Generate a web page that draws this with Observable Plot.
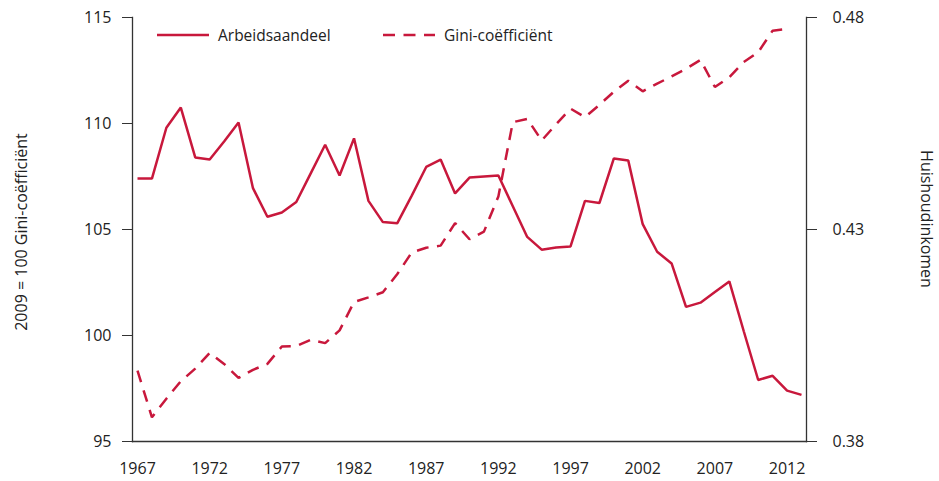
<!DOCTYPE html>
<html><head><meta charset="utf-8">
<script src="https://cdn.jsdelivr.net/npm/d3@7"></script>
<script src="https://cdn.jsdelivr.net/npm/@observablehq/plot@0.6"></script>
<style>
body{margin:0;background:#fff;font-family:"Open Sans",sans-serif;color:#222;}
#wrap{position:relative;width:939px;height:481px;overflow:hidden;}
.legend{position:absolute;top:24px;font-size:15.5px;line-height:22px;display:flex;align-items:center;}
.legend svg{display:block;margin-right:9px;}
.ytitle{position:absolute;font-size:16px;white-space:nowrap;transform-origin:center center;}
</style></head><body>
<div id="wrap"></div>
<script>
const years = [1967,1968,1969,1970,1971,1972,1973,1974,1975,1976,1977,1978,1979,1980,1981,1982,1983,1984,1985,1986,1987,1988,1989,1990,1991,1992,1993,1994,1995,1996,1997,1998,1999,2000,2001,2002,2003,2004,2005,2006,2007,2008,2009,2010,2011,2012,2013];
const labourShare = [107.4,107.4,109.8,110.75,108.4,108.3,109.15,110.05,106.95,105.6,105.8,106.3,107.65,109.0,107.55,109.3,106.35,105.35,105.3,106.6,107.95,108.3,106.7,107.45,107.5,107.55,106.1,104.65,104.05,104.15,104.2,106.35,106.25,108.35,108.25,105.25,103.95,103.4,101.35,101.55,102.05,102.55,100.2,97.9,98.1,97.4,97.2];
const gini = [0.3967,0.3857,0.3901,0.3942,0.3972,0.4009,0.3983,0.3950,0.3969,0.3983,0.4024,0.4025,0.4040,0.4032,0.4062,0.4129,0.4140,0.4152,0.4195,0.4246,0.4257,0.4262,0.4315,0.4277,0.4295,0.4378,0.4553,0.4561,0.4510,0.4548,0.4585,0.4565,0.4594,0.4625,0.4651,0.4626,0.4644,0.4661,0.4679,0.4700,0.4636,0.4659,0.4695,0.4718,0.4769,0.4773];
const tickYears = [1967,1972,1977,1982,1987,1992,1997,2002,2007,2012];
const leftTicks = [95,100,105,110,115];
const rightTicks = [0.38,0.43,0.48];
const seriesNames = ["Arbeidsaandeel","Gini-coëfficiënt"];
const leftTitle = "2009 = 100 Gini-coëfficiënt";
const rightTitle = "Huishoudinkomen";
const red = "#c8183c";

const g2l = d3.scaleLinear([0.38,0.48],[95,115]);
const rowsA = years.map((y,i)=>({year:y, v:labourShare[i]}));
const rowsG = gini.map((g,i)=>({year:years[i], v:g2l(g)}));

const chart = Plot.plot({
  width:939, height:481,
  marginLeft:132, marginRight:133, marginTop:17, marginBottom:40,
  insetLeft:5, insetRight:5,
  style:{fontFamily:"'Open Sans', sans-serif", fontSize:"16px", color:"#222", background:"#fff", overflow:"visible"},
  x:{domain:[1967,2013]},
  y:{domain:[95,115]},
  marks:[
    Plot.frame({anchor:"left", stroke:"#333", strokeWidth:1.3}),
    Plot.frame({anchor:"right", stroke:"#333", strokeWidth:1.3}),
    Plot.frame({anchor:"bottom", stroke:"#333", strokeWidth:1.3}),
    Plot.axisX({ticks:tickYears, tickSize:0, tickPadding:21, tickFormat:d=>String(d), label:null}),
    Plot.axisY({ticks:leftTicks, tickSize:10, tickPadding:11, tickFormat:d=>String(d), label:null, stroke:"#333"}),
    Plot.axisY({anchor:"right", ticks:rightTicks.map(g2l), tickSize:10, tickPadding:16, tickFormat:d=>d3.format(".2f")(g2l.invert(d)), label:null, stroke:"#333"}),
    Plot.line(rowsG, {x:"year", y:"v", stroke:red, strokeWidth:2.5, strokeDasharray:"12,8.5", strokeLinecap:"butt", strokeLinejoin:"miter"}),
    Plot.line(rowsA, {x:"year", y:"v", stroke:red, strokeWidth:2.5, strokeLinecap:"butt", strokeLinejoin:"miter"})
  ]
});
const wrap = document.getElementById("wrap");
wrap.appendChild(chart);

function legendItem(name, dash, left){
  const d = document.createElement("div");
  d.className = "legend";
  d.style.left = left + "px";
  d.innerHTML = `<svg width="52" height="6"><line x1="0" x2="52" y1="3" y2="3" stroke="${red}" stroke-width="2.5" ${dash?'stroke-dasharray="12,8.5"':''}/></svg><span>${name}</span>`;
  wrap.appendChild(d);
}
legendItem(seriesNames[0], false, 157);
legendItem(seriesNames[1], true, 383);

function title(text, cx, cy, rot){
  const t = document.createElement("div");
  t.className = "ytitle";
  t.textContent = text;
  wrap.appendChild(t);
  const w = t.offsetWidth, h = t.offsetHeight;
  t.style.left = (cx - w/2) + "px";
  t.style.top = (cy - h/2) + "px";
  t.style.transform = `rotate(${rot}deg)`;
}
title(leftTitle, 21, 232, -90);
title(rightTitle, 927, 219, 90);
</script>
</body></html>
